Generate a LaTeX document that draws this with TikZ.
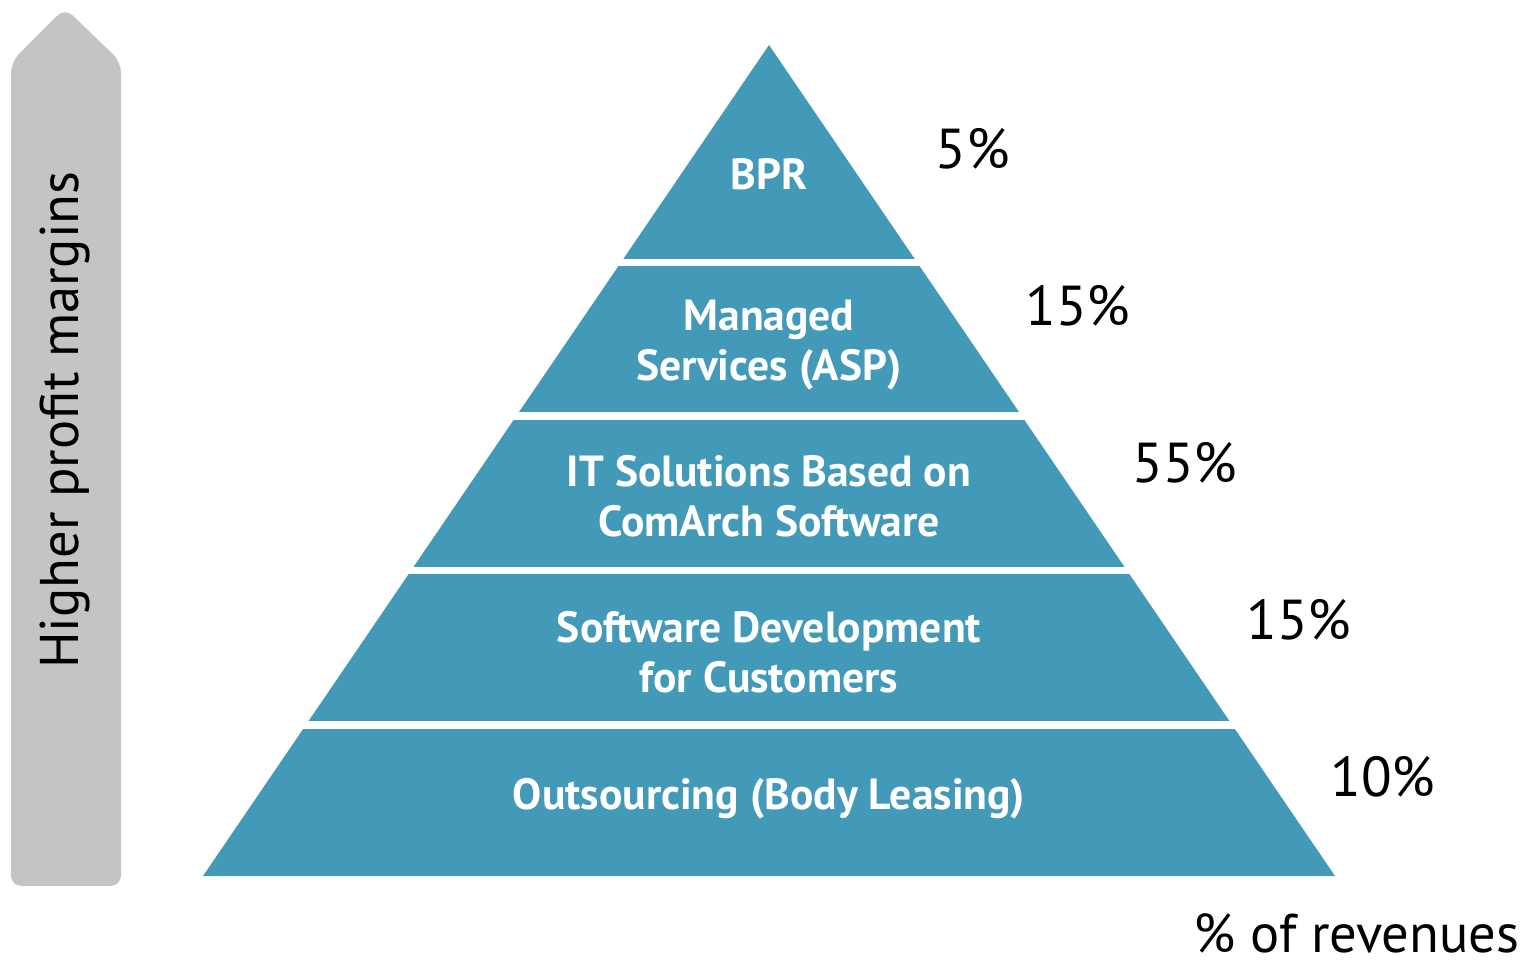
\documentclass[tikz,border=0pt]{standalone}
\usepackage{fontspec}
\setmainfont{PT Sans}

\definecolor{pyrblue}{HTML}{4399B8}
\definecolor{bargray}{HTML}{C4C4C4}

\begin{document}
\begin{tikzpicture}[x=0.01cm,y=0.01cm,
		band/.style={text=white,font=\fontsize{12.4}{14.2}\selectfont\bfseries,align=center},
		share/.style={font=\fontsize{16}{18}\selectfont}]
	\useasboundingbox (0,0) rectangle (1531,966);
	
	% Arrow on the left
	\fill[bargray,rounded corners=3pt] (11,80) -- (11,904) -- (65,958) -- (121,904) -- (121,80) -- cycle;
	\node[rotate=90,font=\fontsize{15.5}{18}\selectfont] (margin) at (65,546) {Higher profit margins};
	
	% Pyramid, cut into bands by white gaps
	\fill[pyrblue] (203,90) -- (769,921) -- (1335,90) -- cycle;
	\foreach \yy in {703.5,550,395.5,241}
		\draw[white,line width=2pt] (150,\yy) -- (1400,\yy);
	
	% Band labels
	\node[band] (bpr) at (769,792) {BPR};
	\node[band] (asp) at (769,621) {Managed\\Services (ASP)};
	\node[band] (its) at (769,470) {IT Solutions Based on\\ComArch Software};
	\node[band] (dev) at (769,314) {Software Development\\for Customers};
	\node[band] (out) at (769,167) {Outsourcing (Body Leasing)};
	
	% Revenue shares
	\node[share] (p1) at (973,817) {5\%};
	\node[share] (p2) at (1078,660) {15\%};
	\node[share] (p3) at (1185,503) {55\%};
	\node[share] (p4) at (1299,346) {15\%};
	\node[share] (p5) at (1383,189) {10\%};
	\node[share,font=\fontsize{15.5}{18}\selectfont,inner sep=0pt,anchor=base east] (rev) at (1520,14) {\% of revenues};
\end{tikzpicture}
\end{document}
